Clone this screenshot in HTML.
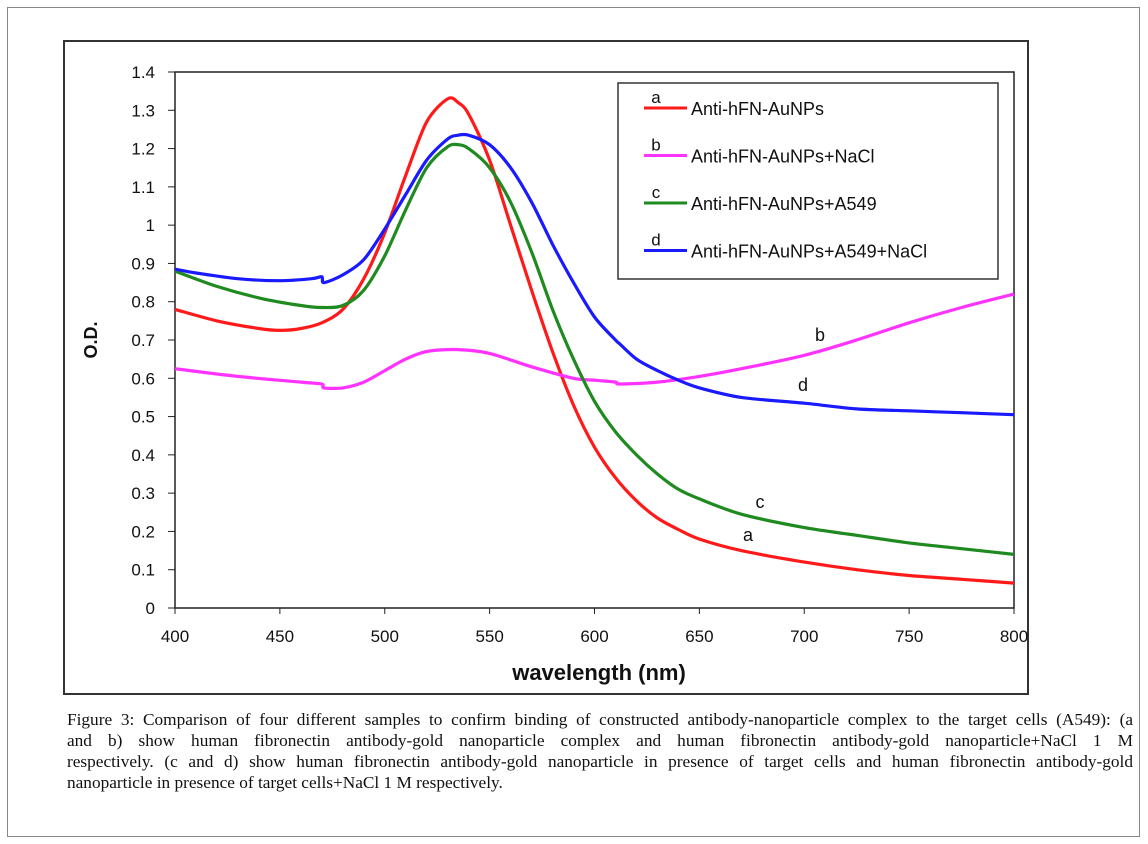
<!DOCTYPE html>
<html><head><meta charset="utf-8"><style>
body{margin:0;background:#fff;width:1148px;height:844px;overflow:hidden;position:relative;font-family:"Liberation Sans",sans-serif}
#outer{position:absolute;left:7px;top:7px;width:1133px;height:830px;border:1px solid #888;box-sizing:border-box}
#frame{position:absolute;left:63px;top:40px;width:966px;height:655px;border:2px solid #333;box-sizing:border-box}
#cap{position:absolute;left:67px;top:709px;width:1066px;font-family:"Liberation Serif",serif;font-size:17.3px;line-height:21px;color:#111}
#cap div{text-align:justify;text-align-last:justify;height:21px;white-space:normal}
#cap div.last{text-align-last:left;white-space:nowrap}
</style></head><body>
<div id="outer"></div>
<div id="frame"></div>
<svg id="chart" width="1148" height="844" style="position:absolute;left:0;top:0"></svg>
<div id="cap">
<div>Figure 3: Comparison of four different samples to confirm binding of constructed antibody-nanoparticle complex to the target cells (A549): (a</div>
<div>and b) show human fibronectin antibody-gold nanoparticle complex and human fibronectin antibody-gold nanoparticle+NaCl 1 M</div>
<div>respectively. (c and d) show human fibronectin antibody-gold nanoparticle in presence of target cells and human fibronectin antibody-gold</div>
<div class="last">nanoparticle in presence of target cells+NaCl 1 M respectively.</div>
</div>
<script>
const xTicks=[400,450,500,550,600,650,700,750,800];
const yTicks=[0,0.1,0.2,0.3,0.4,0.5,0.6,0.7,0.8,0.9,1,1.1,1.2,1.3,1.4];
const wlA=[400,420,440,450,460,470,480,490,500,510,520,530,535,540,550,560,570,580,590,600,610,620,630,640,650,670,700,725,750,775,800];
const odA=[0.78,0.75,0.73,0.725,0.73,0.745,0.78,0.86,0.98,1.13,1.27,1.33,1.32,1.29,1.17,1.0,0.83,0.67,0.53,0.42,0.34,0.28,0.235,0.205,0.18,0.15,0.12,0.1,0.085,0.075,0.065];
const wlB=[400,430,460,470,471,480,490,500,510,520,535,550,570,590,600,610,612,630,650,670,700,725,750,775,800];
const odB=[0.625,0.605,0.59,0.585,0.575,0.575,0.59,0.62,0.65,0.67,0.675,0.665,0.63,0.6,0.595,0.59,0.585,0.59,0.605,0.625,0.66,0.7,0.745,0.785,0.82];
const wlC=[400,420,440,460,470,480,490,500,510,520,530,535,540,550,560,570,580,590,600,610,620,630,640,650,670,700,725,750,775,800];
const odC=[0.88,0.84,0.81,0.79,0.785,0.79,0.83,0.92,1.04,1.15,1.205,1.21,1.2,1.15,1.06,0.93,0.78,0.65,0.54,0.46,0.4,0.35,0.31,0.285,0.245,0.21,0.19,0.17,0.155,0.14];
const wlD=[400,410,430,450,465,470,471,480,490,500,510,520,530,535,540,550,560,570,580,590,600,610,612,620,630,640,650,670,700,725,750,775,800];
const odD=[0.885,0.875,0.86,0.855,0.86,0.865,0.85,0.87,0.91,0.99,1.08,1.17,1.225,1.235,1.235,1.21,1.15,1.06,0.95,0.85,0.76,0.7,0.69,0.65,0.62,0.595,0.575,0.55,0.535,0.52,0.515,0.51,0.505];
const names=["Anti-hFN-AuNPs","Anti-hFN-AuNPs+NaCl","Anti-hFN-AuNPs+A549","Anti-hFN-AuNPs+A549+NaCl"];
const letters=["a","b","c","d"];
const L=175,R=1014,T=72,B=608;
const xs=w=>L+(w-400)/400*(R-L);
const ys=v=>B-v/1.4*(B-T);
const svg=document.getElementById('chart');
const NS="http://www.w3.org/2000/svg";
function mk(t,a){const e=document.createElementNS(NS,t);for(const k in a)e.setAttribute(k,a[k]);svg.appendChild(e);return e;}
function smooth(pts){
 let d='M'+pts[0][0].toFixed(1)+','+pts[0][1].toFixed(1);
 for(let i=0;i<pts.length-1;i++){
  const p0=pts[Math.max(0,i-1)],p1=pts[i],p2=pts[i+1],p3=pts[Math.min(pts.length-1,i+2)];
  const k=1/6*0.9;
  const c1=[p1[0]+(p2[0]-p0[0])*k,p1[1]+(p2[1]-p0[1])*k];
  const c2=[p2[0]-(p3[0]-p1[0])*k,p2[1]-(p3[1]-p1[1])*k];
  d+=' C'+c1[0].toFixed(1)+','+c1[1].toFixed(1)+' '+c2[0].toFixed(1)+','+c2[1].toFixed(1)+' '+p2[0].toFixed(1)+','+p2[1].toFixed(1);
 }
 return d;
}
let r=mk('rect',{x:L,y:T,width:R-L,height:B-T,fill:'none',stroke:'#222','stroke-width':1.5});


yTicks.forEach(v=>{
 let t=mk('line',{x1:L-7,x2:L,y1:ys(v),y2:ys(v),stroke:'#222'});
 
 
 let tx=mk('text',{x:L-20,y:ys(v)+6,'text-anchor':'end','font-size':17,fill:'#111'});tx.textContent=String(v);
 
 
});
xTicks.forEach(v=>{
 let t=mk('line',{x1:xs(v),x2:xs(v),y1:B,y2:B+6,stroke:'#222'});
 
 
 let tx=mk('text',{x:xs(v),y:B+34,'text-anchor':'middle','font-size':17,fill:'#111'});tx.textContent=String(v);
 
 
});
let xt=mk('text',{x:599,y:680,'text-anchor':'middle','font-size':22,'font-weight':'bold',fill:'#111'});xt.textContent='wavelength (nm)';


let yt=mk('text',{x:0,y:0,'text-anchor':'middle','font-size':18,'font-weight':'bold',fill:'#111',transform:'translate(97,340) rotate(-90)'});yt.textContent='O.D.';


const series=[[wlA,odA,'#ff1a1a','curve-a'],[wlB,odB,'#ff33ff','curve-b'],[wlC,odC,'#1f8a1f','curve-c'],[wlD,odD,'#1a1aff','curve-d']];
series.forEach(s=>{
 const pts=s[0].map((w,i)=>[xs(w),ys(s[1][i])]);
 let p=mk('path',{d:smooth(pts),fill:'none',stroke:s[2],'stroke-width':3.2,'stroke-linejoin':'round'});
 
 
});
[['b',820,341],['d',803,391],['c',760,508],['a',748,541]].forEach(a=>{
 let t=mk('text',{x:a[1],y:a[2],'text-anchor':'middle','font-size':18,fill:'#111'});t.textContent=a[0];
 
 
});
let lg=mk('rect',{x:618,y:83,width:380,height:196,fill:'#fff',stroke:'#333','stroke-width':1.5});


series.forEach((s,i)=>{
 let y=108+i*47.5;
 let l=mk('line',{x1:644,x2:687,y1:y,y2:y,stroke:s[2],'stroke-width':3});
 
 
 let a=mk('text',{x:656,y:y-5,'font-size':17,fill:'#111','text-anchor':'middle'});a.textContent=letters[i];
 
 
 let t=mk('text',{x:691,y:y+7,'font-size':18,fill:'#111'});t.textContent=names[i];
 
 
});
</script>
</body></html>
